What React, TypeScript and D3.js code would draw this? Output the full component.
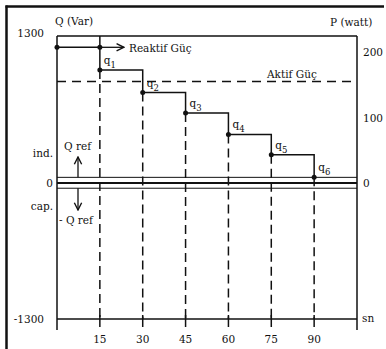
import React from 'react';
import * as d3 from 'd3';

// time (sn) of each switching step and reactive power (Var) after it
const times = [0, 15, 30, 45, 60, 75, 90];
const qValues = [1200, 1000, 800, 620, 430, 250, 50];
const xTicks = [15, 30, 45, 60, 75, 90];
const qTicks = [1300, 0, -1300];
const pTicks = [200, 100, 0];
const qRef = 50;
const aktifGuc = 155;

const font = "'DejaVu Serif', serif";

const App = () => {
    const width = 386;
    const height = 349;

    const x = d3.scaleLinear().domain([0, 105]).range([57, 357]);
    // Q axis is a bit stretched above zero in the original
    const y = d3.scaleLinear().domain([-1300, 0, 1300]).range([319, 183, 36]);
    const yP = d3.scaleLinear().domain([0, 200]).range([183, 52]);

    const pts: [number, number][] = times.map((t, i) => [t, qValues[i]]);
    const step = d3.line<[number, number]>()
        .x(d => x(d[0]))
        .y(d => y(d[1]))
        .curve(d3.curveStepAfter);

    const dots: [number, number][] = [[times[0], qValues[0]], [times[1], qValues[0]], ...pts.slice(1)];

    const stroke = '#111';

    return (
        <svg width={width} height={height} style={{ position: 'absolute', left: 0, top: 0, fontFamily: font, fontSize: 10.5 }}
             fill="#111">
            <defs>
                <marker id="arr" viewBox="0 0 10 10" refX="9" refY="5" markerWidth="7" markerHeight="7" orient="auto">
                    <path d="M1,1 L9,5 L1,9" fill="none" stroke={stroke} strokeWidth="1.5"/>
                </marker>
            </defs>
            {/* outer frame */}
            <line x1={6.5} x2={6.5} y1={5.5} y2={height} stroke={stroke} strokeWidth={2.5}/>
            <line x1={5.5} x2={384} y1={6.5} y2={6.5} stroke={stroke} strokeWidth={2.5}/>

            {/* plot box and axes */}
            <line x1={x(0)} x2={x(105)} y1={y(1300)} y2={y(1300)} stroke={stroke} strokeWidth={1.5}/>
            <line x1={x(0)} x2={x(0)} y1={y(1300)} y2={330} stroke={stroke} strokeWidth={1.5}/>
            <line x1={x(105)} x2={x(105)} y1={y(1300)} y2={330} stroke={stroke} strokeWidth={1.5}/>
            <line x1={x(0)} x2={x(105)} y1={y(-1300)} y2={y(-1300)} stroke={stroke} strokeWidth={1.5}/>
            {xTicks.map(t => (
                <g key={t}>
                    <line x1={x(t)} x2={x(t)} y1={y(-1300) - 4} y2={y(-1300) + 8} stroke={stroke} strokeWidth={1.5}/>
                    <text x={x(t)} y={343} textAnchor="middle">{t}</text>
                </g>
            ))}

            {/* zero line and Q ref band */}
            <line x1={x(0)} x2={x(105)} y1={y(qRef)} y2={y(qRef)} stroke={stroke} strokeWidth={1}/>
            <line x1={x(0)} x2={x(105)} y1={y(0)} y2={y(0)} stroke={stroke} strokeWidth={2}/>
            <line x1={x(0)} x2={x(105)} y1={y(-qRef)} y2={y(-qRef)} stroke={stroke} strokeWidth={1}/>

            {/* active power */}
            <line x1={x(0)} x2={x(105)} y1={yP(aktifGuc)} y2={yP(aktifGuc)} stroke={stroke} strokeWidth={1.5} strokeDasharray="9,6"/>
            <text x={267} y={yP(aktifGuc) - 3}>Aktif Güç</text>

            {/* dashed drop lines */}
            {pts.slice(1).map(([t, q]) => (
                <line key={t} x1={x(t)} x2={x(t)} y1={y(q)} y2={y(-1300)} stroke={stroke} strokeWidth={1.5} strokeDasharray="9,5"/>
            ))}
            <line x1={x(times[1])} x2={x(times[1])} y1={y(1300)} y2={y(qValues[0])} stroke={stroke} strokeWidth={1.5}/>

            {/* reactive power steps */}
            <path d={step(pts) || ''} fill="none" stroke={stroke} strokeWidth={1.5}/>
            <line x1={x(times[1])} x2={x(times[1]) + 24} y1={y(qValues[0])} y2={y(qValues[0])} stroke={stroke} strokeWidth={1.3} markerEnd="url(#arr)"/>
            <text x={129} y={y(qValues[0]) + 5}>Reaktif Güç</text>
            {dots.map((d, i) => <circle key={i} cx={x(d[0])} cy={y(d[1])} r={2.5} fill={stroke}/>)}
            {pts.slice(1).map(([t, q], i) => (
                <text key={t} x={x(t) + 4} y={y(q) - 6}>q<tspan fontSize={8.5} dy={4}>{i + 1}</tspan></text>
            ))}

            {/* Q ref arrows */}
            <line x1={78} x2={78} y1={y(qRef)} y2={157} stroke={stroke} strokeWidth={1.3} markerEnd="url(#arr)"/>
            <line x1={78} x2={78} y1={y(-qRef)} y2={210} stroke={stroke} strokeWidth={1.3} markerEnd="url(#arr)"/>
            <text x={64} y={150}>Q ref</text>
            <text x={59} y={224}>- Q ref</text>
            <text x={53} y={157} textAnchor="end">ind.</text>
            <text x={53} y={210} textAnchor="end">cap.</text>

            {/* axis labels */}
            <text x={55} y={25}>Q (Var)</text>
            <text x={330} y={26}>P (watt)</text>
            {qTicks.map(q => (
                <text key={q} x={q === 0 ? 53 : 44} y={q === 1300 ? 37 : y(q) + 4} textAnchor="end">{q}</text>
            ))}
            {pTicks.map(p => (
                <text key={p} x={363} y={yP(p) + 4}>{p}</text>
            ))}
            <text x={362} y={y(-1300) + 3}>sn</text>
        </svg>
    );
};

export default App;
